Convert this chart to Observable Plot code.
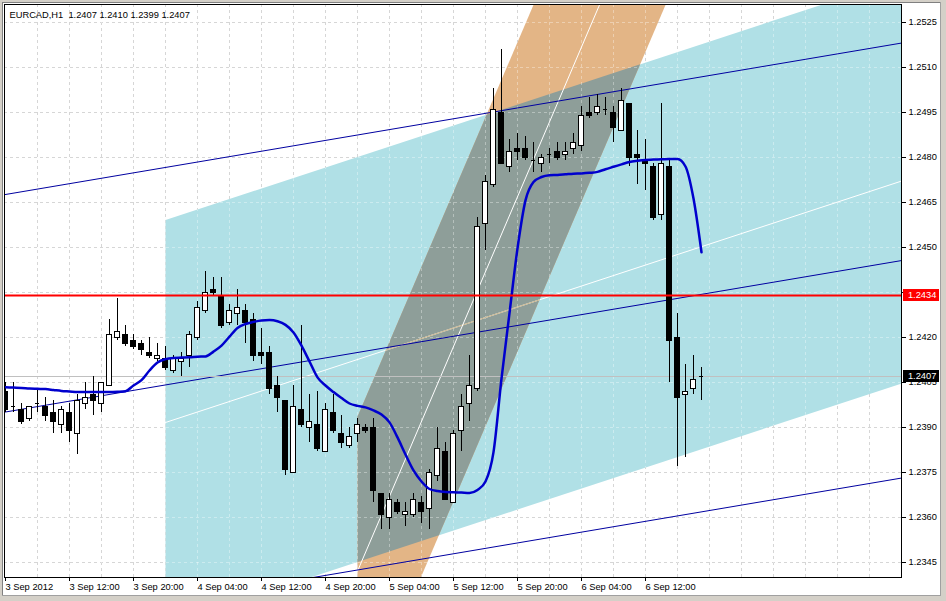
<!DOCTYPE html>
<html><head><meta charset="utf-8">
<script src="https://cdn.jsdelivr.net/npm/d3@7"></script>
<script src="https://cdn.jsdelivr.net/npm/@observablehq/plot@0.6"></script>
<style>
html,body{margin:0;padding:0;background:#fff;}
#wrap{position:relative;width:946px;height:601px;overflow:hidden;background:#fff;}
#wrap svg{position:absolute;left:0;top:0;}
svg text{white-space:pre;}
.chrome{position:absolute;}
</style></head><body><div id="wrap">
</div>
<script>
const symbol = "EURCAD,H1";
const timeLabels = ["3 Sep 2012","3 Sep 12:00","3 Sep 20:00","4 Sep 04:00","4 Sep 12:00","4 Sep 20:00","5 Sep 04:00","5 Sep 12:00","5 Sep 20:00","6 Sep 04:00","6 Sep 12:00"];
const labelBars = [0,8,16,24,32,40,48,56,64,72,80];
const priceTicks = [1.2345,1.2360,1.2375,1.2390,1.2405,1.2420,1.2435,1.2450,1.2465,1.2480,1.2495,1.2510,1.2525];

const open = [1.2402,1.2397,1.2396,1.2393,1.2398,1.2397,1.2395,1.2391,1.2395,1.2388,
1.2398,1.2401,1.2398,1.2404,1.2420,1.2421,1.2419,1.2418,1.2415,1.2413,
1.2413,1.2409,1.2412,1.2414,1.2420,1.2429,1.2436,1.2434,1.2425,1.2428,
1.2429,1.2426,1.2415,1.2415,1.2404,1.2399,1.2375,1.2396,1.2390,1.2391,
1.2382,1.2395,1.2388,1.2384,1.2388,1.2390,1.2390,1.2368,1.2360,1.2365,
1.2361,1.2361,1.2365,1.2363,1.2374,1.2382,1.2365,1.2389,1.2398,1.2403,
1.2458,1.2471,1.2495,1.2477,1.2483,1.2483,1.2479,1.2478,1.2481,1.2482,
1.2481,1.2483,1.2484,1.2495,1.2495,1.2496,1.2495,1.2489,1.2498,1.2481,
1.2479,1.2477,1.2461,1.2477,1.2420,1.2401,1.2403,1.2407];
const high = [1.2405,1.2405,1.2398,1.2397,1.2403,1.2400,1.2399,1.2397,1.2398,1.2401,
1.2405,1.2407,1.2405,1.2426,1.2433,1.2424,1.2421,1.2419,1.2420,1.2418,
1.2417,1.2414,1.2415,1.2422,1.2432,1.2442,1.2440,1.2440,1.2431,1.2436,
1.2431,1.2428,1.2423,1.2417,1.2407,1.2399,1.2404,1.2424,1.2401,1.2402,
1.2398,1.2401,1.2394,1.2390,1.2393,1.2391,1.2393,1.2368,1.2368,1.2366,
1.2365,1.2368,1.2367,1.2376,1.2390,1.2385,1.2389,1.2401,1.2414,1.2460,
1.2474,1.2503,1.2516,1.2486,1.2488,1.2487,1.2485,1.2481,1.2483,1.2485,
1.2485,1.2488,1.2497,1.2500,1.2501,1.2500,1.2497,1.2503,1.2498,1.2489,
1.2486,1.2478,1.2498,1.2479,1.2428,1.2411,1.2414,1.2410];
const low = [1.2395,1.2395,1.2391,1.2392,1.2395,1.2392,1.2388,1.2388,1.2385,1.2381,
1.2396,1.2394,1.2395,1.2404,1.2419,1.2417,1.2416,1.2414,1.2413,1.2412,
1.2409,1.2408,1.2407,1.2410,1.2419,1.2428,1.2434,1.2423,1.2424,1.2424,
1.2418,1.2412,1.2411,1.2401,1.2395,1.2374,1.2375,1.2390,1.2385,1.2382,
1.2382,1.2388,1.2383,1.2383,1.2385,1.2388,1.2365,1.2356,1.2356,1.2361,
1.2357,1.2360,1.2358,1.2356,1.2372,1.2366,1.2365,1.2382,1.2392,1.2402,
1.2449,1.2470,1.2478,1.2475,1.2479,1.2479,1.2475,1.2475,1.2478,1.2479,
1.2479,1.2481,1.2482,1.2493,1.2494,1.2494,1.2485,1.2489,1.2477,1.2471,
1.2469,1.2459,1.2459,1.2405,1.2377,1.2380,1.2401,1.2399];
const close = [1.2396,1.2397,1.2392,1.2397,1.2398,1.2394,1.2392,1.2396,1.2389,1.2399,
1.2400,1.2399,1.2405,1.2421,1.2422,1.2418,1.2417,1.2416,1.2414,1.2414,
1.2410,1.2413,1.2413,1.2421,1.2430,1.2435,1.2435,1.2424,1.2429,1.2430,
1.2425,1.2414,1.2414,1.2403,1.2400,1.2376,1.2397,1.2391,1.2392,1.2383,
1.2396,1.2389,1.2385,1.2387,1.2391,1.2389,1.2369,1.2361,1.2366,1.2362,
1.2362,1.2366,1.2362,1.2375,1.2383,1.2366,1.2388,1.2397,1.2404,1.2457,
1.2472,1.2496,1.2478,1.2482,1.2482,1.2480,1.2479,1.2480,1.2481,1.2480,
1.2482,1.2485,1.2494,1.2494,1.2497,1.2496,1.2490,1.2499,1.2480,1.2480,
1.2478,1.2460,1.2478,1.2419,1.2400,1.2402,1.2406,1.2407];
const ma = [1.24034,1.24033,1.24032,1.24030,1.24029,1.24028,1.24025,1.24022,1.24020,1.24018,
1.24018,1.24018,1.24018,1.24018,1.24019,1.24021,1.24040,1.24058,1.24090,1.24117,
1.24128,1.24132,1.24133,1.24134,1.24136,1.24137,1.24153,1.24173,1.24203,1.24232,
1.24245,1.24252,1.24257,1.24258,1.24254,1.24242,1.24217,1.24173,1.24120,1.24067,
1.24040,1.24018,1.23998,1.23980,1.23972,1.23967,1.23957,1.23943,1.23917,1.23867,
1.23810,1.23757,1.23720,1.23695,1.23688,1.23685,1.23684,1.23683,1.23682,1.23692,
1.23720,1.23818,1.24063,1.24281,1.24497,1.24657,1.24718,1.24735,1.24741,1.24742,
1.24744,1.24746,1.24747,1.24749,1.24752,1.24761,1.24769,1.24777,1.24785,1.24789,
1.24792,1.24793,1.24794,1.24795,1.24795,1.24770,1.24663,1.24484];
const redLevel = 1.2434;

// channels: [navy equidistant, light-blue regression, orange regression]
const chStart  = [0, 20, 44];
const chCenter = [1.239517, 1.239167, 1.234210];
const chSlope  = [0.00004507, 0.00008747, 0.000624];
const chHalf   = [0.00725, 0.00675, 0.00515];
const chEnd    = [130, 130, 100];

const xMin = -0.125, xMax = 112, yMin = 1.2340, yMax = 1.2531;

const ch = (k, b, side) => chCenter[k] + chSlope[k] * (b - chStart[k]) + side * chHalf[k];
const poly = k => [[chStart[k], ch(k, chStart[k], 1)], [chEnd[k], ch(k, chEnd[k], 1)],
                   [chEnd[k], ch(k, chEnd[k], -1)], [chStart[k], ch(k, chStart[k], -1)]];

function clipPoly(subject, clip) {
  let area = 0;
  for (let i = 0; i < clip.length; i++) { const a = clip[i], b = clip[(i + 1) % clip.length]; area += a[0] * b[1] - b[0] * a[1]; }
  const s = Math.sign(area);
  let out = subject;
  for (let i = 0; i < clip.length; i++) {
    const A = clip[i], B = clip[(i + 1) % clip.length];
    const side = p => s * ((B[0] - A[0]) * (p[1] - A[1]) - (B[1] - A[1]) * (p[0] - A[0]));
    const inp = out; out = [];
    for (let j = 0; j < inp.length; j++) {
      const P = inp[j], Q = inp[(j + 1) % inp.length];
      const sp = side(P), sq = side(Q);
      if (sp >= 0) out.push(P);
      if ((sp >= 0) !== (sq >= 0)) { const t = sp / (sp - sq); out.push([P[0] + t * (Q[0] - P[0]), P[1] + t * (Q[1] - P[1])]); }
    }
  }
  return out;
}

const blueP = poly(1), orangeP = poly(2), grayP = clipPoly(orangeP, blueP);
const closeRing = p => p.concat([p[0]]);

// light-blue centre line where it crosses the orange band (appears tan there)
const crossB = side => ((chCenter[2] + side * chHalf[2] - chSlope[2] * chStart[2]) - (chCenter[1] - chSlope[1] * chStart[1])) / (chSlope[1] - chSlope[2]);
const tanSeg = [crossB(1), crossB(-1)].map(b => Math.max(b, chStart[2])).map(b => [b, ch(1, b, 0)]);

const bars = open.map((o, i) => ({i, o, h: high[i], l: low[i], c: close[i]}));
const bodies = bars.filter(d => d.o !== d.c);
const dojis = bars.filter(d => d.o === d.c);
const gridBars = d3.range(4, 113, 4);
const last = bars[bars.length - 1];
const title = `${symbol}  ${last.o.toFixed(4)} ${last.h.toFixed(4)} ${last.l.toFixed(4)} ${last.c.toFixed(4)}`;

const navyLine = side => [-1, chEnd[0]].map(b => [b, ch(0, b, side)]);

const chart = Plot.plot({
  width: 946, height: 601,
  marginLeft: 4, marginRight: 45, marginTop: 4, marginBottom: 24,
  x: {domain: [xMin, xMax], axis: null},
  y: {domain: [yMin, yMax], axis: null},
  style: {background: "white", fontFamily: "'Liberation Sans', Arial, sans-serif", fontSize: "9.3px", color: "black", overflow: "visible"},
  marks: [
    Plot.ruleY(priceTicks, {y: d => d, stroke: "#c0c0c0", strokeDasharray: "3,3"}),
    Plot.ruleX(gridBars, {x: d => d, stroke: "#c0c0c0", strokeDasharray: "3,3"}),
    Plot.line(closeRing(blueP), {x: d => d[0], y: d => d[1], fill: "#B0E0E6", stroke: "none", clip: true}),
    Plot.line(closeRing(orangeP), {x: d => d[0], y: d => d[1], fill: "#E3B586", stroke: "none", clip: true}),
    Plot.line(closeRing(grayP), {x: d => d[0], y: d => d[1], fill: "#8E9E99", stroke: "none", clip: true}),
    Plot.ruleY(priceTicks, {y: d => d, stroke: "#ffffff", strokeOpacity: 0.35, strokeDasharray: "3,3"}),
    Plot.ruleX(gridBars, {x: d => d, stroke: "#ffffff", strokeOpacity: 0.35, strokeDasharray: "3,3"}),
    Plot.line([chStart[1], chEnd[1]].map(b => [b, ch(1, b, 0)]), {x: d => d[0], y: d => d[1], stroke: "white", strokeWidth: 1, clip: true}),
    Plot.line(tanSeg, {x: d => d[0], y: d => d[1], stroke: "#C8B48C", strokeWidth: 1, clip: true}),
    Plot.line([chStart[2], chEnd[2]].map(b => [b, ch(2, b, 0)]), {x: d => d[0], y: d => d[1], stroke: "white", strokeWidth: 1, clip: true}),
    ...[1, 0, -1].map(s => Plot.line(navyLine(s), {x: d => d[0], y: d => d[1], stroke: "#0000A0", strokeWidth: 1, clip: true})),
    Plot.ruleY([last.c], {y: d => d, stroke: "#c0c0c0", strokeWidth: 1}),
    Plot.ruleX(bars, {x: "i", y1: "l", y2: "h", stroke: "black", strokeWidth: 1, shapeRendering: "crispEdges", clip: true}),
    Plot.rect(bodies, {x1: d => d.i - 0.27, x2: d => d.i + 0.27, y1: d => Math.min(d.o, d.c), y2: d => Math.max(d.o, d.c),
      fill: d => d.c > d.o ? "white" : "black", stroke: "black", strokeWidth: 1, shapeRendering: "crispEdges", clip: true}),
    Plot.ruleY(dojis, {y: "o", x1: d => d.i - 0.3, x2: d => d.i + 0.3, stroke: "black", strokeWidth: 1, shapeRendering: "crispEdges"}),
    Plot.line(ma, {x: (d, i) => i, y: d => d, stroke: "#0000CD", strokeWidth: 2.5, curve: "monotone-x", clip: true}),
    Plot.ruleY([redLevel], {y: d => d, stroke: "#FF0000", strokeWidth: 2}),
    Plot.frame({stroke: "black", strokeWidth: 1}),
    Plot.axisY({ticks: priceTicks, anchor: "right", tickSize: 4, tickPadding: 3, tickFormat: d => d.toFixed(4), label: null, fill: "black", stroke: "black"}),
    Plot.axisX({ticks: labelBars, tickFormat: d => timeLabels[labelBars.indexOf(d)], textAnchor: "start", tickSize: 4, tickPadding: 2, label: null, fill: "black", stroke: "black"}),
    Plot.rect([redLevel], {x1: xMax + 0.25, x2: xMax + 4.75, y1: d => d - 0.0002, y2: d => d + 0.0002, fill: "#FF0000"}),
    Plot.text([redLevel], {x: xMax + 0.8, y: d => d, text: d => d.toFixed(4), fill: "white", textAnchor: "start"}),
    Plot.rect([last.c], {x1: xMax + 0.25, x2: xMax + 4.75, y1: d => d - 0.0002, y2: d => d + 0.0002, fill: "black"}),
    Plot.text([last.c], {x: xMax + 0.8, y: d => d, text: d => d.toFixed(4), fill: "white", textAnchor: "start"}),
    Plot.text([title], {frameAnchor: "top-left", dx: 5, dy: 10.5, lineAnchor: "middle", textAnchor: "start", fill: "black"})
  ]
});
const wrap = document.getElementById("wrap");
wrap.appendChild(chart);
// window chrome around the chart
[
  {left: 0, top: 0, width: 946, height: 2, background: "#d4d0c8"},
  {left: 0, top: 2, width: 946, height: 1, background: "#808080"},
  {left: 0, top: 0, width: 2, height: 601, background: "#d4d0c8"},
  {left: 2, top: 2, width: 1, height: 597, background: "#808080"},
  {left: 941, top: 0, width: 5, height: 601, background: "#d4d0c8"},
  {left: 940, top: 2, width: 1, height: 596, background: "#a0a0a0"},
  {left: 0, top: 596, width: 946, height: 5, background: "#d4d0c8"},
  {left: 2, top: 595, width: 939, height: 1, background: "#a0a0a0"}
].forEach(s => {
  const d = document.createElement("div");
  d.className = "chrome";
  Object.assign(d.style, {left: s.left + "px", top: s.top + "px", width: s.width + "px", height: s.height + "px", background: s.background});
  wrap.appendChild(d);
});
</script></body></html>
